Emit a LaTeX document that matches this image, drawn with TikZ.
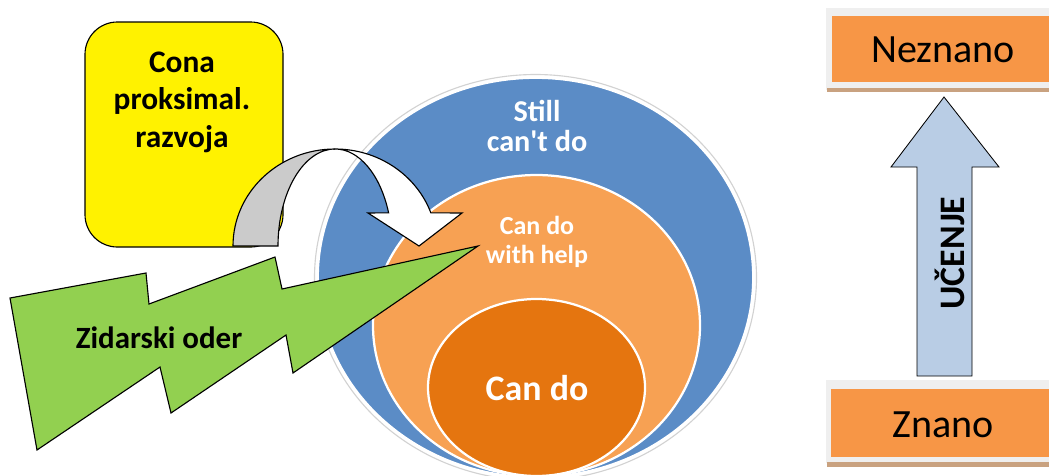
\documentclass[tikz,border=0pt]{standalone}
\usepackage{fontspec}
\setmainfont{Carlito}

\definecolor{stillblue}{HTML}{5B8CC6}
\definecolor{helporange}{HTML}{F7A153}
\definecolor{candoorange}{HTML}{E5750F}
\definecolor{boltgreen}{HTML}{92D050}
\definecolor{boxorange}{HTML}{F79646}
\definecolor{arrowblue}{HTML}{B9CDE5}
\definecolor{shadowbrown}{HTML}{C9A280}
\definecolor{halogray}{HTML}{EFEFEF}
\definecolor{bandgray}{HTML}{CBCBCB}

\begin{document}
\begin{tikzpicture}[x=0.025cm, y=-0.025cm,
    circtext/.style={text=white, font=\bfseries, align=center},
    outline/.style={draw=black, line width=0.8pt}]
  % Bounding box
  \useasboundingbox (0,0) rectangle (1049,475);
  \clip (0,0) rectangle (1049,475);

  % Circles
  \draw[gray!35, line width=0.8pt] (535.5,277.5) ellipse [x radius=221, y radius=203];
  \draw[white, line width=2pt, fill=stillblue] (535.5,277.5) ellipse [x radius=218, y radius=200];
  \draw[white, line width=1.6pt, fill=helporange] (536.5,325.5) ellipse [x radius=163.5, y radius=150.5];
  \draw[white, line width=1.6pt, fill=candoorange] (536.5,387.5) ellipse [x radius=108.5, y radius=88.5];

  % Circle labels
  \node[circtext, font=\bfseries\fontsize{21.5}{21}\selectfont] (still) at (537,126) {Still\\can\textquotesingle t do};
  \node[circtext, font=\bfseries\fontsize{18.5}{20.5}\selectfont] (help) at (537,242) {Can do\\with help};
  \node[circtext, font=\bfseries\fontsize{25.5}{28}\selectfont] (cando) at (537,388) {Can do};

  % Zone box
  \draw[outline, fill=yellow, rounded corners=23pt] (85,22) rectangle (283,247);
  \node[align=center, font=\bfseries\fontsize{22.3}{26.6}\selectfont] (cona) at (182,102) {Cona\\proksimal.\\razvoja};

  % Curved arrow
  \filldraw[outline, fill=bandgray] (233,246)
    arc[start angle=180, end angle=270, x radius=102, y radius=97]
    arc[start angle=270, end angle=180, x radius=57, y radius=97] -- cycle;
  \filldraw[outline, fill=white] (335,149)
    arc[start angle=270, end angle=340, x radius=102, y radius=97]
    -- (462,213) -- (419,246) -- (368,213) -- (388.6,212.8)
    arc[start angle=340, end angle=270, x radius=57, y radius=97] -- cycle;

  % Lightning bolt
  \filldraw[outline, fill=boltgreen] (10,298) -- (146,273) -- (149,304) -- (275,257)
    -- (282,289) -- (478,246) -- (293,373) -- (286,335) -- (171,413) -- (160,367)
    -- (37,450) -- cycle;
  \node[font=\bfseries\fontsize{22}{26}\selectfont] (oder) at (159,338) {Zidarski oder};

  % Known / unknown
  \fill[halogray] (826,8) rectangle (1049,90);
  \fill[shadowbrown] (827,88) rectangle (1049,92);
  \fill[boxorange] (832,16) rectangle (1049,82);
  \node[font=\fontsize{28.5}{32}\selectfont] (neznano) at (943,50) {Neznano};

  \fill[halogray] (826,380) rectangle (1049,463);
  \fill[shadowbrown] (827,462) rectangle (1049,467);
  \fill[boxorange] (831,389) rectangle (1049,457);
  \node[font=\fontsize{28.5}{32}\selectfont] (znano) at (943,425) {Znano};

  % Learning arrow
  \filldraw[draw=black, line width=0.6pt, fill=arrowblue] (944,97) -- (999,167) -- (972,167)
    -- (972,376) -- (917,376) -- (917,167) -- (891,167) -- cycle;
  \node[rotate=90, font=\bfseries\fontsize{25.5}{28}\selectfont] (ucenje) at (950,253) {UČENJE};
\end{tikzpicture}
\end{document}
